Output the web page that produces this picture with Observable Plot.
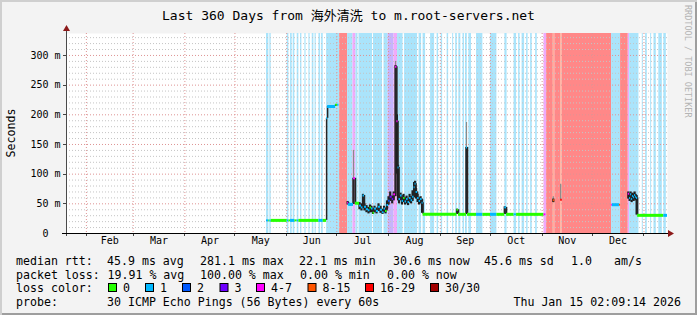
<!DOCTYPE html>
<html>
<head>
<meta charset="utf-8">
<script src="https://cdn.jsdelivr.net/npm/d3@7"></script>
<script src="https://cdn.jsdelivr.net/npm/@observablehq/plot@0.6"></script>
<style>
html, body { margin: 0; padding: 0; background: #ffffff; }
#wrap { position: relative; width: 697px; height: 315px; background: #f3f3f3; overflow: hidden;
  box-shadow: inset 2px 2px 0 #cfcfcf, inset -2px -2px 0 #9e9e9e; }
#wrap svg { position: absolute; left: 0; top: 0; }
</style>
</head>
<body>
<div id="wrap"></div>
<script>
// ---------- text ----------
const MONO = '"DejaVu Sans Mono", "Noto Sans CJK SC", monospace';
const titleText = "Last 360 Days from 海外清洗 to m.root-servers.net";
const yTitle = "Seconds";
const sideText = "RRDTOOL / TOBI OETIKER";

// ---------- time axis ----------
const startTime = "2025-01-20T02:09:14Z";   // 360 days before the end stamp
const spanDays = 360;
const monthNames = ["Feb","Mar","Apr","May","Jun","Jul","Aug","Sep","Oct","Nov","Dec"];
const monthStarts = ["2025-02-01","2025-03-01","2025-04-01","2025-05-01","2025-06-01","2025-07-01",
                     "2025-08-01","2025-09-01","2025-10-01","2025-11-01","2025-12-01","2026-01-01"];

// ---------- value axis (ms) ----------
const yMajor = [0, 50, 100, 150, 200, 250, 300];
const yMinor = [10,20,30,40,60,70,80,90,110,120,130,140,160,170,180,190,210,220,230,240,260,270,280,290,310,320,330];
const yTop = 337;

// ---------- loss classes ----------
const lossLabels = ["0","1","2","3","4-7","8-15","16-29","30/30"];
const lossColors = ["#26ff00","#00b8ff","#0059ff","#6e00ff","#ff00ff","#ff5500","#ff0000","#a10000"];
const lossBg     = ["#ffffff","#aae4fb","#a9bcfb","#c6b4fc","#f0aafa","#ffae9c","#ff8888","#d08080"];

// ---------- loss background bands (days since start) ----------
const bandStart = [119.8,121.8,132.2,134.2,135.8,138.2,140.2,142.8,145.2,147.2,148.9,151.2,152.8,155.8,
  163.6,168.4,171.6,173.4,175.2,183.9,190.2,192.6,196.2,198.3,202.5,211.2,213.6,218.1,222.0,224.4,228.0,
  231.3,233.1,235.0,237.5,239.0,241.0,245.6,254.0,262.6,268.1,270.8,272.9,275.6,278.0,281.0,
  286.0,287.6,291.6,292.5,296.0,297.0,326.5,331.9,336.5,337.3,344.9,346.9,349.9,351.9,354.8,357.8];
const bandEnd = [121.2,122.6,133.2,135.2,136.8,139.2,141.0,143.5,145.9,148.2,149.6,152.2,153.8,163.6,
  168.4,171.6,173.4,174.6,183.3,189.3,192.6,196.2,198.3,201.6,210.3,212.7,215.1,220.5,222.9,225.3,228.9,
  231.9,234.1,236.2,238.4,240.1,242.6,249.4,257.8,263.9,269.6,271.7,274.4,276.5,279.0,282.0,
  287.6,291.6,292.5,296.0,297.0,326.5,331.9,336.5,337.3,342.9,345.5,347.9,350.5,353.3,356.9,359.3];
const bandLoss = [1,1,1,1,1,1,1,1,1,1,1,1,1,1,
  6,1,4,1,1,1,1,3,4,1,1,1,1,1,1,1,1,
  1,1,1,1,1,1,1,1,1,1,1,1,1,1,1,
  4,6,5,6,5,6,1,6,4,1,1,1,1,1,1,1];

// ---------- median rtt (step samples; null = no data) ----------
const medDay = [
  119.8,121.2,121.8,122.6,132.2,133.2,134.2,136.8,138.2,139.2,151.2,153.8,
  155.8,156.4,161.2,162.4,163.2,
  168.4,169.0,171.9,173.1,175.5,176.7,177.6,178.5,179.7,180.9,181.8,182.7,183.6,184.5,185.7,186.9,
  188.1,189.3,190.2,191.1,192.0,192.9,193.9,195.1,196.0,197.1,197.9,198.6,199.2,200.1,201.0,201.9,
  202.8,203.7,204.6,205.5,206.4,207.3,208.2,208.8,209.4,210.3,211.2,212.1,213.0,
  213.6,233.9,234.8,239.6,240.2,245.6,249.4,254.0,257.8,262.5,263.6,268.1,269.6,286.0,287.2,
  291.6,292.5,296.0,297.0,
  326.5,327.0,331.2,331.9,
  336.5,337.3,337.9,338.5,339.1,339.7,340.3,340.9,341.5,342.1,357.8,360.0];
const medMs = [
  22.1,22.1,22.1,22.1,22.1,22.1,22.1,22.1,22.1,22.1,22.1,22.1,
  194,214,217,217,null,
  52,49,93,51,47,44,64,45,41,39,44,42,35,42,38,45,
  40,36,42,38,48,55,62,58,66,281.1,189,111,58,64,55,60,
  54,58,53,60,56,62,78,84,70,60,55,58,52,
  32.3,40,32.3,145,32.3,32.3,32.3,32.3,32.3,44,32.3,32.3,32.3,32.3,null,
  56,null,57,null,
  48.5,48.5,48.5,null,
  67,60,66,58,63,61,65,62,60,30.6,30.6,null];
const medLoss = [
  1,0,1,0,1,0,1,0,1,0,1,0,
  1,1,0,1,0,
  4,1,4,0,1,1,1,1,1,1,0,1,0,1,1,1,
  1,1,1,0,1,2,3,3,4,4,4,1,1,1,1,0,
  1,1,1,1,1,1,1,1,1,1,1,1,1,
  0,0,0,1,0,1,0,1,0,1,0,1,0,4,0,
  5,0,6,0,
  4,1,5,0,
  4,1,1,1,1,1,1,1,1,0,1,0];

// ---------- smoke (dense ping spread) ----------
const smokeDay = [168.4,171.9,175.5,176.7,177.6,178.5,179.7,180.9,181.8,182.7,183.6,184.5,185.7,186.9,188.1,
  189.3,190.2,191.1,192.0,192.9,193.9,195.1,196.0,197.1,197.9,198.6,199.2,200.1,201.0,201.9,202.8,203.7,
  204.6,205.5,206.4,207.3,208.2,208.8,209.4,210.3,211.2,212.1,213.0,233.9,239.6,262.5,291.6,
  336.5,337.3,337.9,338.5,339.1,339.7,340.3,340.9,341.5];
const smokeLo = [48,49,40,38,42,38,35,33,35,35,32,35,33,37,34,
  32,35,33,40,48,54,50,55,62,100,55,50,55,48,52,48,50,
  47,52,50,54,60,66,58,52,48,50,34,32,32,32,52,
  58,54,58,52,55,54,57,55,31];
const smokeHi = [54,93,52,50,66,50,47,44,48,46,40,46,43,50,46,
  41,46,43,55,62,70,63,70,283,200,115,64,68,60,66,60,63,
  58,66,62,72,86,88,76,66,60,62,57,41,145,45,58,
  70,66,70,64,68,66,70,66,64];
const outerDay = [171.9,197.1,239.6,291.6,296.0];
const outerLo  = [93,281,145,56,57];
const outerHi  = [140,290,187,62,83];

// ---------- legend / stats ----------
const medianStats = ["45.9 ms avg","281.1 ms max","22.1 ms min","30.6 ms now","45.6 ms sd","1.0","am/s"];
const medianStatX = [107,200,299,393,484,571,614];
const lossStats = ["19.91 % avg","100.00 % max","0.00 % min","0.00 % now"];
const lossStatX = [107.5,200,300,387];
const lossSwatchX = [108,145,182,219.5,256,307.5,365,430];
const probeText = "30 ICMP Echo Pings (56 Bytes) every 60s";
const stampText = "Thu Jan 15 02:09:14 2026";

// ---------- build tables ----------
const t0 = new Date(startTime).getTime();
const toDate = d => new Date(t0 + d * 864e5);
const bands = bandStart.map((s, i) => ({x1: toDate(s), x2: toDate(bandEnd[i]), fill: lossBg[bandLoss[i]]}));
const monthDates = monthStarts.map(s => new Date(s + "T00:00:00Z"));
const monthLabelRows = monthNames.map((m, i) => ({label: m, x: new Date((monthDates[i].getTime() + monthDates[i + 1].getTime()) / 2)}));
const segs = [], joins = [];
for (let i = 0; i < medDay.length - 1; i++) {
  if (medMs[i] == null) continue;
  const span = medDay[i + 1] - medDay[i];
  segs.push({x1: toDate(medDay[i]), x2: toDate(medDay[i + 1]), y: medMs[i], stroke: lossColors[medLoss[i]], w: span < 1.6 ? 2 : 3});
  if (i > 0 && medMs[i - 1] != null && medMs[i - 1] !== medMs[i])
    joins.push({x: toDate(medDay[i]), y1: medMs[i - 1], y2: medMs[i]});
}
const smoke = smokeDay.map((d, i) => ({x: toDate(d), y1: smokeLo[i], y2: smokeHi[i]}));
const outer = outerDay.map((d, i) => ({x: toDate(d), y1: outerLo[i], y2: outerHi[i]}));

const chart = Plot.plot({
  width: 697, height: 315,
  marginLeft: 66, marginRight: 30, marginTop: 33, marginBottom: 82,
  x: {type: "utc", domain: [toDate(0), toDate(spanDays)], axis: null},
  y: {domain: [0, yTop], axis: null},
  color: {type: "identity"},
  style: {background: "transparent", fontFamily: MONO, fontSize: "10px", color: "#000", overflow: "visible"},
  marks: [
    Plot.frame({fill: "#ffffff", stroke: "none"}),
    Plot.rect(bands, {x1: "x1", x2: "x2", fill: "fill"}),
    Plot.ruleY(yMinor, {stroke: "#c4c4c4", strokeDasharray: "1,2"}),
    Plot.ruleY(yMajor.filter(v => v > 0), {stroke: "#de9494", strokeDasharray: "1,2"}),
    Plot.ruleX(monthDates, {stroke: "#de9494", strokeDasharray: "1,2"}),
    Plot.ruleX(outer, {x: "x", y1: "y1", y2: "y2", stroke: "#8a8a8a", strokeWidth: 1.2}),
    Plot.ruleX(smoke, {x: "x", y1: "y1", y2: "y2", stroke: "#1f1f1f", strokeWidth: 2.2}),
    Plot.ruleX(joins, {x: "x", y1: "y1", y2: "y2", stroke: "#262626", strokeWidth: 1.5}),
    Plot.ruleY(segs, {y: "y", x1: "x1", x2: "x2", stroke: "stroke", strokeWidth: "w"}),
    Plot.axisY(yMajor.filter(v => v > 0), {tickSize: 0, tickPadding: 6, tickFormat: d => d + " m", label: null, fontSize: 10}),
    Plot.axisY([0], {tickSize: 0, tickPadding: 18, tickFormat: () => "0", label: null, fontSize: 10}),
    Plot.text(monthLabelRows, {x: "x", text: "label", frameAnchor: "bottom", dy: 10, fontSize: 10})
  ]
});
document.getElementById("wrap").appendChild(chart);

// ---------- decorations (axes, arrows, title, legend) ----------
const svg = d3.select(chart);
const xs = chart.scale("x"), ys = chart.scale("y");
const X0 = xs.apply(toDate(0)), X1 = xs.apply(toDate(spanDays));
const Y0 = ys.apply(0), Y1 = ys.apply(yTop);

const g = svg.append("g");
monthDates.forEach(d => {
  const x = Math.round(xs.apply(d)) + 0.5;
  g.append("line").attr("x1", x).attr("x2", x).attr("y1", Y0).attr("y2", Y0 + 3).attr("stroke", "#444");
});
yMajor.forEach(v => {
  const y = Math.round(ys.apply(v)) + 0.5;
  g.append("line").attr("x1", X0 - 3).attr("x2", X0).attr("y1", y).attr("y2", y).attr("stroke", "#444");
});
g.append("line").attr("x1", X0 + 0.5).attr("x2", X0 + 0.5).attr("y1", Y0 + 3).attr("y2", Y1 - 5).attr("stroke", "#4a4a4a");
g.append("line").attr("x1", X0 - 4).attr("x2", X1 + 2).attr("y1", Y0 + 0.5).attr("y2", Y0 + 0.5).attr("stroke", "#000");
g.append("polygon").attr("points", `${X0 - 3},${Y1 - 2} ${X0 + 4},${Y1 - 2} ${X0 + 0.5},${Y1 - 8}`).attr("fill", "#8c1a1a");
g.append("polygon").attr("points", `${X1 + 1},${Y0 - 3} ${X1 + 1},${Y0 + 4} ${X1 + 7},${Y0 + 0.5}`).attr("fill", "#8c1a1a");

const T = (x, y, s, o = {}) => svg.append("text")
  .attr("x", x).attr("y", y)
  .attr("font-family", MONO).attr("font-size", o.size || 11.6)
  .attr("text-anchor", o.anchor || "start").attr("fill", o.fill || "#000")
  .attr("transform", o.rotate ? `rotate(${o.rotate} ${x} ${y})` : null)
  .text(s);

T(348.5, 20, titleText, {size: 13, anchor: "middle"});
T(15, 133, yTitle, {rotate: -90, anchor: "middle"});
T(685, 5, sideText, {rotate: 90, size: 8.5, fill: "#b4b4b4"});

const rowY = [264.5, 278.5, 292, 305.5];
T(16, rowY[0], "median rtt:");
medianStats.forEach((s, i) => T(medianStatX[i], rowY[0], s));
T(16, rowY[1], "packet loss:");
lossStats.forEach((s, i) => T(lossStatX[i], rowY[1], s));
T(16, rowY[2], "loss color:");
lossLabels.forEach((s, i) => {
  svg.append("rect").attr("x", lossSwatchX[i] + 0.5).attr("y", rowY[2] - 8.5).attr("width", 8).attr("height", 8)
    .attr("fill", lossColors[i]).attr("stroke", "#000").attr("stroke-width", 1);
  T(lossSwatchX[i] + 15, rowY[2], s);
});
T(16, rowY[3], "probe:");
T(107, rowY[3], probeText);
T(681, rowY[3], stampText, {anchor: "end"});
</script>
</body>
</html>
